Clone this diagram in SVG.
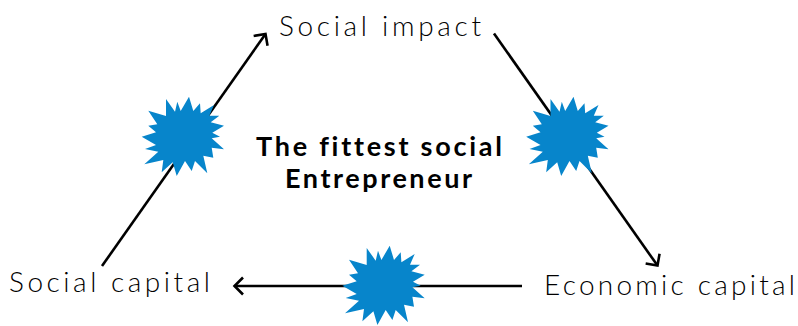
<svg xmlns="http://www.w3.org/2000/svg" xmlns:xlink="http://www.w3.org/1999/xlink" width="798" height="326" viewBox="0 0 798 326">
<style>
text{font-variant-ligatures:none}
.lbl{font-family:"Lato","Liberation Sans",sans-serif;font-weight:300;font-size:28px;fill:#000}
.ttl{font-family:"Lato","Liberation Sans",sans-serif;font-weight:700;font-size:27px;fill:#000}
.conn{fill:none;stroke:#000;stroke-width:2.6}
.burst{fill:#0785cb}
</style>
<defs>
<marker id="arrow" markerUnits="userSpaceOnUse" viewBox="-14 -14 28 28" markerWidth="28" markerHeight="28" refX="0" refY="0" orient="auto">
<path d="M-8.5,-8.5 L0,0 L-8.5,8.5" fill="none" stroke="#000" stroke-width="2.6"/>
</marker>
<polygon id="star" points="36,14 45,26.700 47.300,16.700 50.700,26 59,11.700 63.300,26 70,18.300 70.700,28.300 84,20 79.300,30.700 89.300,30.700 80.700,37.300 94,40.700 82.300,47.700 90,51.700 81.700,53.300 94,64.300 81.700,62.700 83.300,72.700 73.300,70.700 77.300,88.300 65,76 61.700,86 55,76 46.700,91 42.700,77.300 31.700,87.300 33.300,75 14.300,79.300 28.300,66.700 15,64 26,60 11.700,51.700 26,47.300 18.300,40.700 27.300,39.300 18.300,25.700 36,31"/>
</defs>
<rect width="798" height="326" fill="#fff"/>
<g id="connectors">
<line class="conn" x1="102" y1="266" x2="265.500" y2="33.900" marker-end="url(#arrow)"/>
<line class="conn" x1="494" y1="33.500" x2="657.500" y2="265.600" marker-end="url(#arrow)"/>
<line class="conn" x1="522" y1="286" x2="234.500" y2="286" marker-end="url(#arrow)"/>
</g>
<g id="burst-left"><use xlink:href="#star" href="#star" class="burst" transform="translate(130,85)"/></g>
<g id="burst-right"><use xlink:href="#star" href="#star" class="burst" transform="translate(514.500,85)"/></g>
<g id="burst-bottom"><use xlink:href="#star" href="#star" class="burst" transform="translate(330.700,234)"/></g>
<g id="node-social-impact"><text class="lbl" x="279" y="35.700" textLength="202" lengthAdjust="spacing">Social impact</text></g>
<g id="node-social-capital"><text class="lbl" x="9" y="291.700" textLength="201" lengthAdjust="spacing">Social capital</text></g>
<g id="node-economic-capital"><text class="lbl" x="544" y="295" textLength="251" lengthAdjust="spacing">Economic capital</text></g>
<g id="node-title">
<text class="ttl" x="256" y="155.700" textLength="246" lengthAdjust="spacing">The fittest social</text>
<text class="ttl" x="285" y="188.300" textLength="187" lengthAdjust="spacing">Entrepreneur</text>
</g>
</svg>
